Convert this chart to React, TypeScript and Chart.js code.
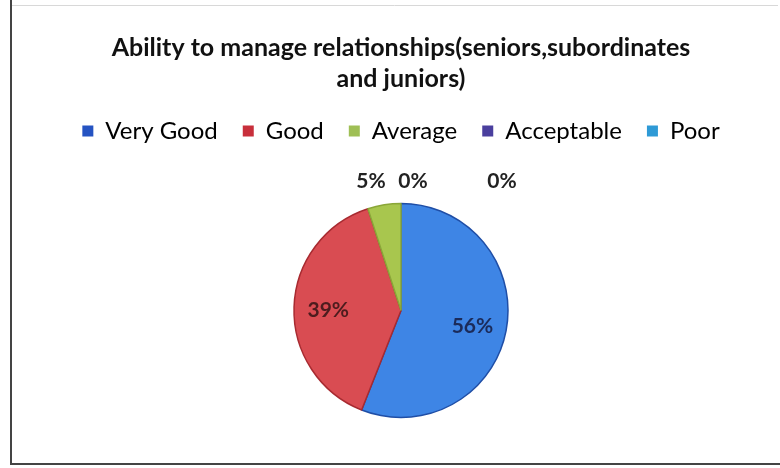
import React, { useEffect, useRef } from "react";
import { Chart, registerables } from "chart.js";

Chart.register(...registerables);

const categories = ["Very Good", "Good", "Average", "Acceptable", "Poor"];
const values = [56, 39, 5, 0, 0];
const titleLines = ["Ability to manage relationships(seniors,subordinates", "and juniors)"];
const sliceColors = ["#3e85e5", "#d94c52", "#a8c64e", "#5a4ba3", "#35a0dc"];
const sliceBorders = ["#1f4ea6", "#a82a30", "#8aa638", "#3c2f80", "#1c7bb5"];
const legendColors = ["#2553c2", "#c82f3b", "#9fbf55", "#4a3f9e", "#2e9ad6"];
const insideLabelColors = ["#1b2b5a", "#4d1c1e", "#222222", "#222222", "#222222"];
// horizontal nudges for the small outside labels (style only)
const outsideNudge = [0, 0, -30, 12, 101];

const FONT = "Lato, 'Open Sans', sans-serif";

const framePlugin = {
  id: "frame",
  beforeDraw(chart: any) {
    const { ctx, width } = chart;
    ctx.save();
    ctx.fillStyle = "#ffffff";
    ctx.fillRect(0, 0, width, chart.height);
    ctx.strokeStyle = "#d8d8d8";
    ctx.lineWidth = 1;
    ctx.beginPath();
    ctx.moveTo(11, 5.5);
    ctx.lineTo(width - 2, 5.5);
    ctx.stroke();
    ctx.strokeStyle = "#444444";
    ctx.lineWidth = 2;
    ctx.beginPath();
    ctx.moveTo(11, 0);
    ctx.lineTo(11, 464);
    ctx.lineTo(width, 464);
    ctx.stroke();
    ctx.restore();
  },
};

const pctLabelPlugin = {
  id: "pctLabels",
  afterDatasetsDraw(chart: any) {
    const { ctx } = chart;
    const meta = chart.getDatasetMeta(0);
    const data = chart.data.datasets[0].data as number[];
    const total = data.reduce((a, b) => a + b, 0);
    ctx.save();
    ctx.font = `bold 21px ${FONT}`;
    ctx.textAlign = "center";
    ctx.textBaseline = "middle";
    meta.data.forEach((arc: any, i: number) => {
      const pct = Math.round((data[i] / total) * 100);
      const { x, y, startAngle, endAngle, outerRadius } = arc.getProps(
        ["x", "y", "startAngle", "endAngle", "outerRadius"],
        true
      );
      const mid = (startAngle + endAngle) / 2;
      const text = `${pct}%`;
      if (pct >= 10) {
        const r = outerRadius * 0.68;
        ctx.fillStyle = insideLabelColors[i];
        ctx.fillText(text, x + Math.cos(mid) * r, y + Math.sin(mid) * r + 2);
      } else {
        const r = outerRadius + 22;
        ctx.fillStyle = "#222222";
        ctx.fillText(text, x + outsideNudge[i], y - r);
      }
    });
    ctx.restore();
  },
};

export default function App() {
  const canvasRef = useRef<HTMLCanvasElement | null>(null);

  useEffect(() => {
    const canvas = canvasRef.current;
    if (!canvas) return;
    const chart = new Chart(canvas, {
      type: "pie",
      data: {
        labels: categories,
        datasets: [
          {
            data: values,
            backgroundColor: sliceColors,
            borderColor: sliceBorders,
            borderWidth: 1.5,
          },
        ],
      },
      options: {
        responsive: false,
        animation: false,
        radius: 107,
        layout: { padding: { top: 32, left: 22, right: 0, bottom: 0 } },
        plugins: {
          title: {
            display: true,
            text: titleLines,
            color: "#111111",
            font: { family: FONT, size: 25, weight: "bold", lineHeight: 1.24 },
            padding: { top: 0, bottom: 0 },
          },
          legend: {
            display: true,
            position: "top",
            labels: {
              color: "#111111",
              font: { family: FONT, size: 24 },
              boxWidth: 11,
              boxHeight: 11,
              padding: 25,
              generateLabels: () =>
                categories.map((c, i) => ({
                  text: c,
                  fillStyle: legendColors[i],
                  strokeStyle: legendColors[i],
                  lineWidth: 0,
                  hidden: false,
                  index: i,
                  datasetIndex: 0,
                })),
            },
          },
          tooltip: { enabled: false },
        },
      },
      plugins: [framePlugin, pctLabelPlugin],
    });
    return () => chart.destroy();
  }, []);

  return (
    <div style={{ position: "fixed", left: 0, top: 0, width: 780, height: 468 }}>
      <canvas ref={canvasRef} width={780} height={468} style={{ display: "block" }} />
    </div>
  );
}
